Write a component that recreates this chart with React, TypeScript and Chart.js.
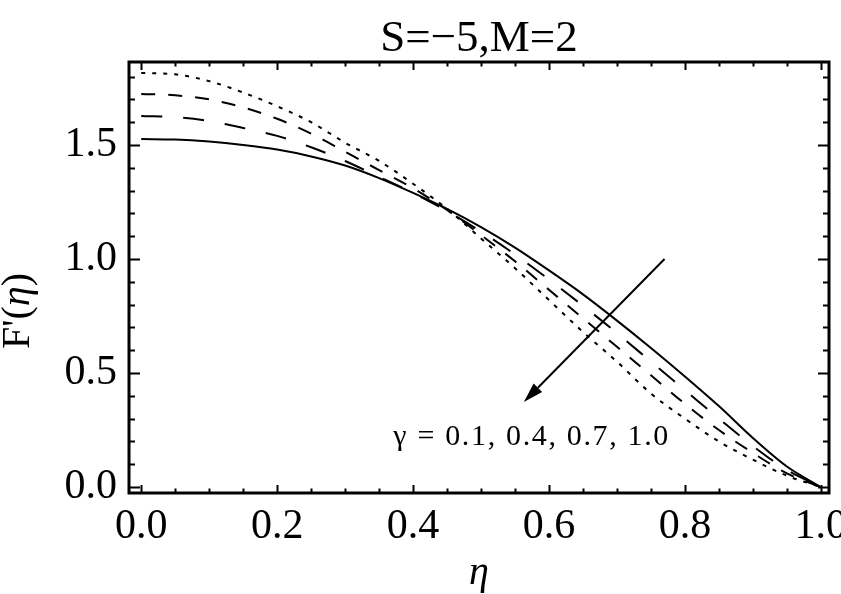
import { useEffect, useRef } from "react";
import { Chart, registerables } from "chart.js";

Chart.register(...registerables);

// ---------- data ----------
const ETA = [0, 0.05, 0.1, 0.15, 0.2, 0.25, 0.3, 0.35, 0.4, 0.45, 0.5, 0.55, 0.6, 0.65, 0.7, 0.75, 0.8, 0.85, 0.9, 0.95, 1.0];
const F_G01 = [1.526, 1.524, 1.515, 1.5, 1.48, 1.45, 1.41, 1.355, 1.29, 1.22, 1.14, 1.05, 0.95, 0.845, 0.73, 0.61, 0.485, 0.355, 0.215, 0.09, 0];
const F_G04 = [1.627, 1.622, 1.605, 1.575, 1.54, 1.49, 1.43, 1.36, 1.29, 1.21, 1.12, 1.02, 0.91, 0.795, 0.675, 0.55, 0.425, 0.3, 0.18, 0.075, 0];
const F_G07 = [1.724, 1.718, 1.7, 1.665, 1.615, 1.55, 1.47, 1.39, 1.31, 1.215, 1.105, 0.99, 0.865, 0.74, 0.615, 0.49, 0.365, 0.25, 0.15, 0.06, 0];
const F_G10 = [1.816, 1.81, 1.78, 1.73, 1.67, 1.6, 1.51, 1.43, 1.33, 1.22, 1.09, 0.96, 0.82, 0.68, 0.55, 0.41, 0.3, 0.2, 0.12, 0.05, 0];
const GAMMA_LABELS = ["γ = 0.1", "γ = 0.4", "γ = 0.7", "γ = 1.0"];

const X_TICKS = [0, 0.2, 0.4, 0.6, 0.8, 1.0];
const Y_TICKS = [0, 0.5, 1.0, 1.5];
const X_MINOR_STEP = 0.05;
const Y_MINOR_STEP = 0.1;

const TITLE = "S=−5,M=2";
const Y_TITLE = ["F'(", "η", ")"];
const X_TITLE = "η";
const ANNOTATION = "γ = 0.1, 0.4, 0.7, 1.0";
const ANNOTATION_AT = { x: 0.371, y: 0.184 };
const ARROW_FROM = { x: 0.77, y: 1.0 };
const ARROW_TO = { x: 0.563, y: 0.373 };

const SERIF = "'Liberation Serif', 'Times New Roman', serif";

const decorPlugin = {
  id: "decor",
  afterDatasetsDraw(chart: any) {
    const { ctx, chartArea: a, scales } = chart;
    const xs = scales.x;
    const ys = scales.y;
    ctx.save();
    ctx.strokeStyle = "#000";
    ctx.fillStyle = "#000";

    // ticks (inward, all four sides)
    ctx.lineWidth = 2;
    ctx.beginPath();
    for (let i = 0; i * X_MINOR_STEP <= 1.0001; i++) {
      const v = +(i * X_MINOR_STEP).toFixed(3);
      const major = X_TICKS.some((t) => Math.abs(t - v) < 1e-6);
      const len = major ? 8 : 4.5;
      const px = Math.round(xs.getPixelForValue(v)) + 0.5;
      ctx.moveTo(px, a.bottom);
      ctx.lineTo(px, a.bottom - len);
      ctx.moveTo(px, a.top);
      ctx.lineTo(px, a.top + len);
    }
    for (let i = 0; i * Y_MINOR_STEP <= 1.8001; i++) {
      const v = +(i * Y_MINOR_STEP).toFixed(3);
      const major = Y_TICKS.some((t) => Math.abs(t - v) < 1e-6);
      const len = major ? 11 : 6;
      const py = Math.round(ys.getPixelForValue(v)) + 0.5;
      ctx.moveTo(a.left, py);
      ctx.lineTo(a.left + len, py);
      ctx.moveTo(a.right, py);
      ctx.lineTo(a.right - len, py);
    }
    ctx.stroke();

    // frame
    ctx.lineWidth = 3;
    ctx.strokeRect(a.left, a.top, a.right - a.left, a.bottom - a.top);

    // arrow
    const x1 = xs.getPixelForValue(ARROW_FROM.x);
    const y1 = ys.getPixelForValue(ARROW_FROM.y);
    const x2 = xs.getPixelForValue(ARROW_TO.x);
    const y2 = ys.getPixelForValue(ARROW_TO.y);
    const ang = Math.atan2(y2 - y1, x2 - x1);
    const headLen = 20;
    const headW = 6;
    const bx = x2 - headLen * Math.cos(ang);
    const by = y2 - headLen * Math.sin(ang);
    ctx.lineWidth = 2;
    ctx.beginPath();
    ctx.moveTo(x1, y1);
    ctx.lineTo(bx, by);
    ctx.stroke();
    ctx.beginPath();
    ctx.moveTo(x2, y2);
    ctx.lineTo(bx + headW * Math.sin(ang), by - headW * Math.cos(ang));
    ctx.lineTo(bx - headW * Math.sin(ang), by + headW * Math.cos(ang));
    ctx.closePath();
    ctx.fill();

    // annotation text with letter spacing
    ctx.font = `30px ${SERIF}`;
    ctx.textBaseline = "alphabetic";
    ctx.textAlign = "left";
    const chars = Array.from(ANNOTATION);
    const natural = chars.reduce((s, c) => s + ctx.measureText(c).width, 0);
    const target = 275;
    const gap = (target - natural) / (chars.length - 1);
    let cx = xs.getPixelForValue(ANNOTATION_AT.x);
    const cy = ys.getPixelForValue(ANNOTATION_AT.y);
    for (const c of chars) {
      ctx.fillText(c, cx, cy);
      cx += ctx.measureText(c).width + gap;
    }
    ctx.restore();
  },
  afterDraw(chart: any) {
    const { ctx, chartArea: a } = chart;
    ctx.save();
    ctx.fillStyle = "#000";
    // title
    ctx.font = `45px ${SERIF}`;
    ctx.textAlign = "center";
    ctx.textBaseline = "alphabetic";
    ctx.fillText(TITLE, (a.left + a.right) / 2, 51);

    // x title
    ctx.font = `italic 40px ${SERIF}`;
    ctx.fillText(X_TITLE, (a.left + a.right) / 2, 584);

    // y title (rotated)
    ctx.save();
    ctx.translate(29, 311);
    ctx.rotate(-Math.PI / 2);
    const fonts = [`40px ${SERIF}`, `italic 40px ${SERIF}`, `40px ${SERIF}`];
    let total = 0;
    Y_TITLE.forEach((t, i) => {
      ctx.font = fonts[i];
      total += ctx.measureText(t).width;
    });
    let px = -total / 2;
    ctx.textAlign = "left";
    Y_TITLE.forEach((t, i) => {
      ctx.font = fonts[i];
      ctx.fillText(t, px, 0);
      px += ctx.measureText(t).width;
    });
    ctx.restore();
    ctx.restore();
  },
};

export default function App() {
  const ref = useRef<HTMLCanvasElement | null>(null);

  useEffect(() => {
    if (!ref.current) return;
    const mk = (ys: number[]) => ETA.map((x, i) => ({ x, y: ys[i] }));
    const chart = new Chart(ref.current, {
      type: "line",
      data: {
        datasets: [
          { label: GAMMA_LABELS[3], data: mk(F_G10), borderColor: "#000", borderWidth: 2, borderDash: [4, 7] },
          { label: GAMMA_LABELS[2], data: mk(F_G07), borderColor: "#000", borderWidth: 2, borderDash: [14, 13] },
          { label: GAMMA_LABELS[1], data: mk(F_G04), borderColor: "#000", borderWidth: 2, borderDash: [21, 21] },
          { label: GAMMA_LABELS[0], data: mk(F_G01), borderColor: "#000", borderWidth: 2 },
        ],
      },
      options: {
        responsive: false,
        animation: false,
        devicePixelRatio: 1,
        layout: { padding: { top: 62, right: 12, left: 0, bottom: 0 }, autoPadding: false },
        plugins: {
          legend: { display: false },
          title: { display: false },
          tooltip: { enabled: false },
        },
        elements: {
          point: { radius: 0 },
          line: { cubicInterpolationMode: "monotone", fill: false },
        },
        scales: {
          x: {
            type: "linear",
            min: -0.018,
            max: 1.012,
            grid: { display: false, drawTicks: false },
            border: { display: false },
            afterBuildTicks: (s: any) => {
              s.ticks = X_TICKS.map((v) => ({ value: v }));
            },
            afterFit: (s: any) => {
              s.height = 101;
              s.paddingLeft = 0;
              s.paddingRight = 0;
            },
            ticks: {
              padding: 9,
              color: "#000",
              maxRotation: 0,
              autoSkip: false,
              font: { family: SERIF, size: 42 },
              callback: (v: any) => Number(v).toFixed(1),
            },
          },
          y: {
            type: "linear",
            min: -0.026,
            max: 1.864,
            grid: { display: false, drawTicks: false },
            border: { display: false },
            afterBuildTicks: (s: any) => {
              s.ticks = Y_TICKS.map((v) => ({ value: v }));
            },
            afterFit: (s: any) => {
              s.width = 129;
              s.paddingTop = 0;
              s.paddingBottom = 0;
            },
            ticks: {
              padding: 12,
              color: "#000",
              autoSkip: false,
              font: { family: SERIF, size: 42 },
              callback: (v: any) => Number(v).toFixed(1),
            },
          },
        },
      },
      plugins: [decorPlugin],
    } as any);
    return () => chart.destroy();
  }, []);

  return (
    <div style={{ position: "fixed", left: 0, top: 0, width: 841, height: 594, background: "#fff" }}>
      <canvas ref={ref} width={841} height={594} style={{ display: "block", width: 841, height: 594 }} />
    </div>
  );
}
